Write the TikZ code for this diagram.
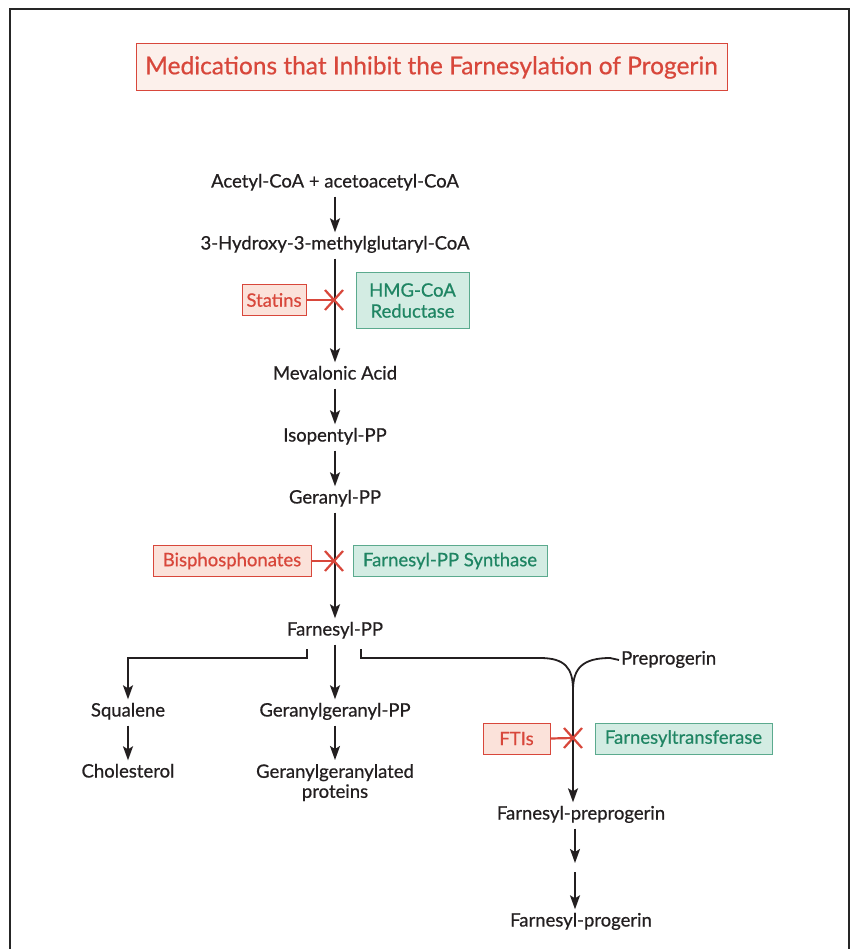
\documentclass[tikz,border=0pt]{standalone}
\usepackage{fontspec}
\setmainfont{Lato}[FakeBold=0.6]
\usetikzlibrary{arrows.meta}
\definecolor{redt}{HTML}{D8473B}
\definecolor{redf}{HTML}{FBE2DA}
\definecolor{titlef}{HTML}{FCF0EB}
\definecolor{greent}{HTML}{1F8563}
\definecolor{greenf}{HTML}{D3ECE3}
\definecolor{greend}{HTML}{5BAA8E}
\definecolor{ink}{HTML}{231F20}
\tikzset{
  txt/.style={font=\fontsize{18.5}{21}\selectfont},
  lbl/.style={txt, text=ink, inner sep=2pt, text height=13pt, text depth=4pt},
  lbl2/.style={txt, text=ink, inner sep=2pt, align=center},
  tip/.style={-{Stealth[length=14pt,width=10pt,inset=3pt]}},
  arr/.style={draw=ink, line width=1.8pt, tip, shorten >=2pt, shorten <=3pt},
  ln/.style={draw=ink, line width=1.8pt},
  drug/.style={txt, text=redt, fill=redf, draw=redt, line width=1pt, inner xsep=4pt, minimum height=31pt},
  enz/.style={txt, text=greent, fill=greenf, draw=greend, line width=1pt, inner xsep=6pt, minimum height=31pt, align=center},
  inh/.style={draw=redt, line width=2.2pt},
}
\newcommand{\crossmark}[1]{\draw[inh] ([shift={(-9,-10)}]#1) -- ([shift={(9,10)}]#1); \draw[inh] ([shift={(-9,10)}]#1) -- ([shift={(9,-10)}]#1);}
\begin{document}
\begin{tikzpicture}[x=1pt,y=-1pt]
\useasboundingbox (0,0) rectangle (851,949);
\fill[white] (0,0) rectangle (851,949);
\draw[line width=2.2pt, black!85] (10,949) -- (10,9) -- (849,9) -- (849,949);

% title
\node[draw=redt, fill=titlef, line width=1pt, text=redt, font=\fontsize{24.5}{28}\selectfont,
      minimum width=591pt, minimum height=47pt] (title) at (431.5,67.5) {Medications that Inhibit the Farnesylation of Progerin};

% main column
\node[lbl] (acetyl) at (335,183) {Acetyl-CoA + acetoacetyl-CoA};
\node[lbl] (hmg) at (335,245) {3-Hydroxy-3-methylglutaryl-CoA};
\node[lbl] (meva) at (335,375) {Mevalonic Acid};
\node[lbl] (iso) at (335,437) {Isopentyl-PP};
\node[lbl] (ger) at (335,499) {Geranyl-PP};
\node[lbl] (fpp) at (335,631) {Farnesyl-PP};
\node[lbl] (squa) at (128,712) {Squalene};
\node[lbl] (chol) at (128,773) {Cholesterol};
\node[lbl] (ggpp) at (335,712) {Geranylgeranyl-PP};
\node[lbl2, anchor=north] (ggprot) at (335,762) {Geranylgeranylated\\[-1pt]proteins};
\node[lbl, anchor=west] (prepro) at (619,660) {Preprogerin};
\node[lbl] (fprepro) at (581,815) {Farnesyl-preprogerin};
\node[lbl] (fpro) at (581,922) {Farnesyl-progerin};

% drugs and enzymes
\node[drug, minimum width=64pt] (statins) at (274,300) {Statins};
\node[enz, minimum width=113pt, minimum height=55pt] (hmgr) at (412.5,300.5) {HMG-CoA\\Reductase};
\node[drug, minimum width=158pt] (bisph) at (232,561) {Bisphosphonates};
\node[enz, minimum width=194pt] (fpps) at (450,561) {Farnesyl-PP Synthase};
\node[drug, minimum width=67pt] (ftis) at (516.5,738.5) {FTIs};
\node[enz, minimum width=177pt] (ftase) at (683.5,738.5) {Farnesyltransferase};

% crossing points
\coordinate (x1) at (334,300);
\coordinate (x2) at (334,561);
\coordinate (x3) at (573,738);

% arrows
\draw[arr] (acetyl) -- (hmg);
\draw[arr] (hmg) -- (meva);
\draw[arr] (meva) -- (iso);
\draw[arr] (iso) -- (ger);
\draw[arr] (ger) -- (fpp);
\draw[arr] (squa) -- (chol);
\draw[arr] (ggpp) -- (ggprot);
\draw[arr] (fpp) -- (ggpp);

% branches
\coordinate (bl) at (307,649);
\coordinate (br) at (361,649);
\coordinate (mrg) at (573,690);
\draw[ln, tip, shorten >=2pt] (bl) -- (307,658) -- (128,658) -- (squa);
\draw[ln, tip, shorten >=2pt] (br) -- (361,658) -- (540,658) .. controls (565,658) and (573,668) .. (mrg) -- (fprepro.north -| mrg);
\draw[ln] (prepro.west) -- (610,658) .. controls (583,658) and (573,668) .. (mrg);

% bottom arrows
\coordinate (m1) at (575,863);
\coordinate (m2) at (575,872);
\draw[arr, shorten >=0pt] (fprepro.south -| m1) -- (m1);
\draw[arr, shorten <=0pt] (m2) -- (fpro.north -| m2);

% inhibitions
\draw[inh] (statins.east) -- (x1);
\crossmark{x1}
\draw[inh] (bisph.east) -- (x2);
\crossmark{x2}
\draw[inh] (ftis.east) -- (x3);
\crossmark{x3}
\end{tikzpicture}
\end{document}
